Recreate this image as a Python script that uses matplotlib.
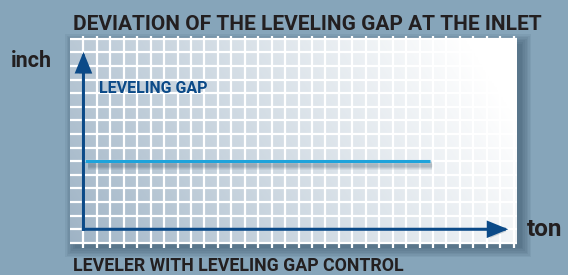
import numpy as np
import matplotlib
matplotlib.use("Agg")
import matplotlib.pyplot as plt
import matplotlib.patheffects as pe
from matplotlib.patches import Rectangle, FancyArrowPatch

plt.rcParams["font.family"] = ["Roboto", "DejaVu Sans"]

# data: leveling gap (in grid cells) over tonnage (in grid cells)
tonnage = [0.15, 5, 10, 15, 20, 25.8]
gap = [5, 5, 5, 5, 5, 5]

title = "DEVIATION OF THE LEVELING GAP AT THE INLET"
subtitle = "LEVELER WITH LEVELING GAP CONTROL"
series_label = "LEVELING GAP"
y_unit = "inch"
x_unit = "ton"

n_cols = 32          # vertical grid lines right of the y axis
n_rows = 14          # horizontal grid lines above the x axis

bg = "#86a5ba"
dark_text = "#231f20"
axis_blue = "#0b4a88"
line_blue = "#1ea3db"
shadow = "#1c364a"

W, H = 568, 275
fig = plt.figure(figsize=(W / 100, H / 100), dpi=100, facecolor=bg)

# panel axes, pixel box 70..517 x 35.5..248.3
ax = fig.add_axes([70 / W, 1 - 248.3 / H, 447 / W, (248.3 - 35.5) / H])
ax.set_facecolor("none")
for s in ax.spines.values():
    s.set_visible(False)
ax.set_xticks([])
ax.set_yticks([])

x0, x1 = -1, 32.25
y0, y1 = -1.4, 14.25

# drop shadow of the panel
for i in range(7):
    g = i * 0.12
    ax.add_patch(Rectangle((-1 + 0.35 - g, -1 - 0.35 - g), (x1 + 1) + 2 * g,
                           15 + 2 * g, facecolor=shadow, alpha=0.07,
                           edgecolor="none", clip_on=False, zorder=-2))

# gradient fill, darker bottom-left to white top-right
nx, ny = 300, 150
xn = np.linspace(0, 1, nx)[None, :]
yn = np.linspace(0, 1, ny)[:, None]
t = np.clip(0.85 * xn + 0.25 * yn, 0, 1) ** 0.9
c0 = np.array([158, 179, 197]) / 255
img = c0[None, None, :] + (1 - c0)[None, None, :] * t[:, :, None]
ax.imshow(img, extent=(-1, x1, -1, n_rows), origin="lower", aspect="auto",
          interpolation="bilinear", zorder=0)

# white grid
ax.vlines(np.arange(0, n_cols + 1), y0, y1, color="white", lw=1.6, zorder=1)
ax.hlines(np.arange(-1, n_rows + 1), x0, x1, color="white", lw=1.6, zorder=1)

ax.set_xlim(x0, x1)
ax.set_ylim(y0, y1)

# axes arrows
arrow_shadow = [pe.SimplePatchShadow(offset=(1.5, -1.5), shadow_rgbFace=shadow,
                                     alpha=0.2), pe.Normal()]
for end in [(0, 13.04), (31.6, 0)]:
    a = FancyArrowPatch((0, 0), end, arrowstyle="-|>,head_length=1.15,head_width=0.47",
                        mutation_scale=10, color=axis_blue, lw=2.2,
                        shrinkA=0, shrinkB=0, joinstyle="miter", capstyle="projecting",
                        zorder=4)
    a.set_path_effects(arrow_shadow)
    ax.add_patch(a)

# leveling gap line with a soft shadow
soft = [pe.SimpleLineShadow(offset=(1.5, -3), shadow_color=shadow, alpha=0.08,
                            linewidth=w) for w in (7, 5.5, 4, 2.5)]
ax.plot(tonnage, gap, color=line_blue, lw=2.2, solid_capstyle="butt", zorder=3,
        path_effects=soft + [pe.Normal()])

# texts
fig.text(73 / W, 1 - 29.5 / H, title, fontsize=15, fontweight="bold",
         color=dark_text, va="baseline", ha="left")
fig.text(73 / W, 1 - 271 / H, subtitle, fontsize=12.8, fontweight="bold",
         color=dark_text, va="baseline", ha="left")
fig.text(11 / W, 1 - 67 / H, y_unit, fontsize=15.5, fontweight="bold",
         color=dark_text, va="baseline", ha="left")
fig.text(527 / W, 1 - 236.5 / H, x_unit, fontsize=17.5, fontweight="bold",
         color=dark_text, va="baseline", ha="left")
fig.text(99 / W, 1 - 92.7 / H, series_label, fontsize=11.5, fontweight="bold",
         color=axis_blue, va="baseline", ha="left")

fig.savefig("out.png", dpi=100, facecolor=bg)
